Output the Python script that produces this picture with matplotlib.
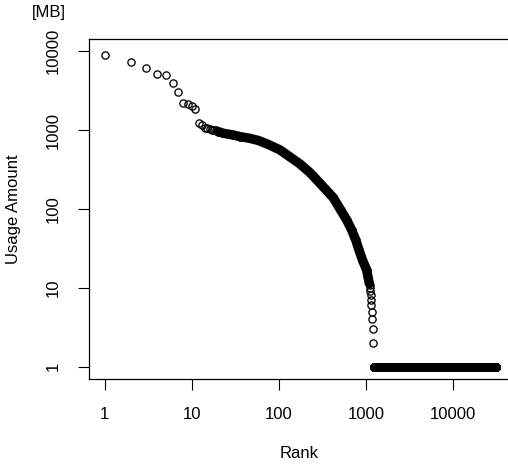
import numpy as np
import matplotlib
matplotlib.use("Agg")
import matplotlib.pyplot as plt

plt.rcParams['font.family'] = ['Liberation Sans', 'DejaVu Sans']

# ---- data ----
head_rank = [1, 2, 3, 4, 5, 6, 7, 8, 9, 10, 11, 12, 13, 14, 15, 16, 17, 18, 19]
head_value = [8950, 7300, 6200, 5200, 5050, 4000, 3050, 2200, 2130, 2030, 1840,
              1230, 1150, 1080, 1050, 1030, 1015, 1000, 990]

curve_rank = [20, 23, 30, 36, 46, 58, 75, 103, 134, 174, 227, 295, 420, 510,
              598, 683, 759, 828, 908, 1014, 1086]
curve_value = [960, 912, 867, 826, 788, 740, 660, 560, 457, 372, 289, 212, 139,
               97, 72.6, 54, 40.5, 30.2, 22.5, 16.8, 11.4]

step_rank = [1095, 1105, 1115, 1125, 1135, 1145, 1160, 1172, 1185, 1205]
step_value = [11, 10, 9, 8, 7, 6, 5, 4, 3, 2]

tail_start = 1230
tail_end = 31000
tail_value = 1

x_ticks = [1, 10, 100, 1000, 10000]
x_ticklabels = ["1", "10", "100", "1000", "10000"]
y_ticks = [1, 10, 100, 1000, 10000]
y_ticklabels = ["1", "10", "100", "1000", "10000"]

# ---- figure ----
W, H = 508, 468
fig = plt.figure(figsize=(W / 100, H / 100), dpi=100)

left, right, top, bottom = 88.7, 512.0, 38.7, 379.3
ax = fig.add_axes([left / W, (H - bottom) / H, (right - left) / W, (bottom - top) / H])
ax.set_xscale('log')
ax.set_yscale('log')

# pixel calibration of the reference axes
x1_px, xdec = 104.7, 87.15
y1_px, ydec = 366.7, 78.85
ax.set_xlim(10 ** ((left - x1_px) / xdec), 10 ** ((right - x1_px) / xdec))
ax.set_ylim(10 ** (-(bottom - y1_px) / ydec), 10 ** ((y1_px - top) / ydec))

mk = dict(marker='o', linestyle='none', markerfacecolor='none',
          markeredgecolor='black', markersize=5.2, markeredgewidth=0.95)

# dense band of overlapping circles
ax.plot(curve_rank, curve_value, color='black', lw=6.8,
        solid_capstyle='round', solid_joinstyle='round')
ax.plot(curve_rank, curve_value, **mk)
ax.plot(head_rank, head_value, **mk)
ax.plot(step_rank, step_value, **mk)
tail_ranks = np.arange(tail_start, tail_end + 1)
ax.plot(tail_ranks, np.full(tail_ranks.shape, tail_value), **mk)

ax.set_xticks(x_ticks)
ax.set_xticklabels(x_ticklabels)
ax.set_yticks(y_ticks)
ax.set_yticklabels(y_ticklabels, rotation=90, va='center')
ax.minorticks_off()
ax.tick_params(axis='both', length=7.7, width=0.8, labelsize=12, colors='black')
ax.tick_params(axis='x', pad=12.5)
ax.tick_params(axis='y', pad=12.5)
for s in ax.spines.values():
    s.set_linewidth(0.9)
    s.set_color('black')
ax.spines['right'].set_visible(False)

fig.text(13.5 / W, 1 - 209 / H, "Usage Amount", rotation=90, ha='center', va='center', fontsize=12)
fig.text(299.3 / W, 1 - 454 / H, "Rank", ha='center', va='center', fontsize=12)
fig.text(49 / W, 1 - 12.7 / H, "[MB]", ha='center', va='center', fontsize=12)

fig.savefig("out.png", dpi=100)
